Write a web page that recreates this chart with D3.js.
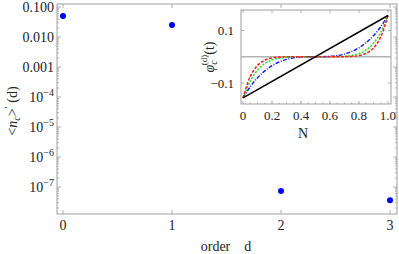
<!DOCTYPE html>
<html><head><meta charset="utf-8">
<script src="https://cdn.jsdelivr.net/npm/d3@7"></script>
<style>
html,body{margin:0;padding:0;background:#fff;}
svg{display:block;font-family:"Liberation Serif","Times New Roman",serif;}
</style></head>
<body><svg id="c" width="399" height="254"></svg>
<script>
// ---- main chart data ----
const orders = [0, 1, 2, 3];
const ncValues = [0.05, 0.025, 7.4e-8, 3.6e-8];
const yTickValues = [0.1, 0.01, 0.001, 1e-4, 1e-5, 1e-6, 1e-7];
const yTickBase = ["0.100", "0.010", "0.001", "10", "10", "10", "10"];
const yTickExp = ["", "", "", "\u22124", "\u22125", "\u22126", "\u22127"];
const xTickValues = [0, 1, 2, 3];

// ---- inset data ----
const insetT = [0,0.05,0.1,0.15,0.2,0.25,0.3,0.35,0.4,0.45,0.5,0.55,0.6,0.65,0.7,0.75,0.8,0.85,0.9,0.95,1];
const phiBlackT = [0, 1];
const phiBlack = [-0.157, 0.157];
const phiBlue = [-0.157,-0.114,-0.080,-0.054,-0.034,-0.020,-0.010,-0.004,-0.0013,-0.0002,0,0.0002,0.0013,0.004,0.010,0.020,0.034,0.054,0.080,0.114,0.157];
const phiGreen = [-0.157,-0.093,-0.051,-0.026,-0.012,-0.005,-0.0016,-0.0004,0,0,0,0,0,0.0004,0.0016,0.005,0.012,0.026,0.051,0.093,0.157];
const phiRed = [-0.157,-0.075,-0.033,-0.013,-0.0044,-0.0012,-0.0003,0,0,0,0,0,0,0,0.0003,0.0012,0.0044,0.013,0.033,0.075,0.157];
const insetXTicks = [0, 0.2, 0.4, 0.6, 0.8, 1.0];
const insetXLabels = ["0", "0.2", "0.4", "0.6", "0.8", "1.0"];
const insetYTicks = [0.1, -0.1];
const insetYLabels = ["0.1", "\u22120.1"];

const svg = d3.select("#c");
const frameCol = "#a0a0a0";

// ---- main plot ----
const L = 57, R = 397, T = 4, B = 214;
const x = d3.scaleLinear().domain([-0.055, 3.064]).range([L, R]);
const y = d3.scaleLog().domain([Math.pow(10, -7.9), Math.pow(10, -0.9)]).range([B, T]);

svg.append("rect").attr("x", L).attr("y", T).attr("width", R - L).attr("height", B - T)
  .attr("fill", "none").attr("stroke", frameCol).attr("stroke-width", 1);

// minor y ticks
const minor = [];
for (let e = -8; e <= -1; e++) for (let k = 2; k <= 9; k++) {
  const v = k * Math.pow(10, e);
  if (v > y.domain()[0] && v < y.domain()[1]) minor.push(v);
}
const gm = svg.append("g").attr("stroke", frameCol).attr("stroke-width", 0.8);
minor.forEach(v => {
  gm.append("line").attr("x1", L).attr("x2", L + 2).attr("y1", y(v)).attr("y2", y(v));
  gm.append("line").attr("x1", R).attr("x2", R - 2).attr("y1", y(v)).attr("y2", y(v));
});
yTickValues.forEach((v, i) => {
  gm.append("line").attr("x1", L).attr("x2", L + 4).attr("y1", y(v)).attr("y2", y(v));
  gm.append("line").attr("x1", R).attr("x2", R - 4).attr("y1", y(v)).attr("y2", y(v));
  const t = svg.append("text").attr("x", 54).attr("y", y(v) + 5).attr("text-anchor", "end")
    .attr("font-size", 14).attr("fill", "#222");
  t.append("tspan").text(yTickBase[i]);
  if (yTickExp[i]) t.append("tspan").attr("dy", -6).attr("font-size", 10).text(yTickExp[i]);
});
xTickValues.forEach(v => {
  gm.append("line").attr("x1", x(v)).attr("x2", x(v)).attr("y1", B).attr("y2", B - 4);
  gm.append("line").attr("x1", x(v)).attr("x2", x(v)).attr("y1", T).attr("y2", T + 4);
  svg.append("text").attr("x", x(v)).attr("y", 230).attr("text-anchor", "middle")
    .attr("font-size", 14).attr("fill", "#222").text(String(v));
});

// points
svg.append("g").selectAll("circle").data(orders).join("circle")
  .attr("cx", d => x(d)).attr("cy", (d, i) => y(ncValues[i])).attr("r", 3)
  .attr("fill", "#0000ff");

// axis labels
const xl = svg.append("text").attr("x", 226).attr("y", 251).attr("text-anchor", "middle")
  .attr("font-size", 14).attr("fill", "#222").attr("xml:space", "preserve").text("order    d");
const yl = svg.append("text").attr("transform", "translate(17,111) rotate(-90)")
  .attr("text-anchor", "middle").attr("font-size", 14).attr("fill", "#222");
yl.append("tspan").text("<");
yl.append("tspan").attr("font-style", "italic").text("n");
yl.append("tspan").attr("font-size", 10).attr("dy", 3).attr("font-style", "italic").text("c");
yl.append("tspan").attr("dy", -3).text(">");
yl.append("tspan").attr("dy", -5).attr("font-size", 10).text("\u2032");
yl.append("tspan").attr("dy", 5).text(" (d)");

// ---- inset ----
const iL = 241, iR = 391, iT = 10, iB = 104;
const ix = d3.scaleLinear().domain([-0.014, 1.021]).range([iL, iR]);
const iy = d3.scaleLinear().domain([-0.180, 0.178]).range([iB, iT]);

svg.append("rect").attr("x", iL).attr("y", iT).attr("width", iR - iL).attr("height", iB - iT)
  .attr("fill", "#fff").attr("stroke", frameCol).attr("stroke-width", 1);
const gi = svg.append("g").attr("stroke", frameCol).attr("stroke-width", 0.8);
insetXTicks.forEach((v, i) => {
  gi.append("line").attr("x1", ix(v)).attr("x2", ix(v)).attr("y1", iB).attr("y2", iB - 3);
  gi.append("line").attr("x1", ix(v)).attr("x2", ix(v)).attr("y1", iT).attr("y2", iT + 3);
  svg.append("text").attr("x", ix(v)).attr("y", 120).attr("text-anchor", "middle")
    .attr("font-size", 13).attr("fill", "#222").text(insetXLabels[i]);
});
d3.range(0.05, 1.0, 0.05).forEach(v => {
  gi.append("line").attr("x1", ix(v)).attr("x2", ix(v)).attr("y1", iB).attr("y2", iB - 1.5);
});
insetYTicks.forEach((v, i) => {
  gi.append("line").attr("x1", iL).attr("x2", iL + 3).attr("y1", iy(v)).attr("y2", iy(v));
  gi.append("line").attr("x1", iR).attr("x2", iR - 3).attr("y1", iy(v)).attr("y2", iy(v));
  svg.append("text").attr("x", 234).attr("y", iy(v) + 5).attr("text-anchor", "end")
    .attr("font-size", 13).attr("fill", "#222").text(insetYLabels[i]);
});
// zero line
svg.append("line").attr("x1", iL).attr("x2", iR).attr("y1", iy(0)).attr("y2", iy(0))
  .attr("stroke", "#b4b4b4").attr("stroke-width", 1.5);

const line = d3.line().x(d => ix(d[0])).y(d => iy(d[1])).curve(d3.curveCatmullRom);
const series = [
  {t: insetT, v: phiBlue, c: "#1a1aff", dash: "4,1.5,1,1.5"},
  {t: insetT, v: phiGreen, c: "#22dd22", dash: "2,1.5"},
  {t: insetT, v: phiRed, c: "#ff1a1a", dash: "3,1.5"},
  {t: phiBlackT, v: phiBlack, c: "#000", dash: null}
];
series.forEach(s => {
  svg.append("path").datum(s.t.map((t, i) => [t, s.v[i]])).attr("d", line)
    .attr("fill", "none").attr("stroke", s.c).attr("stroke-width", 1.5)
    .attr("stroke-dasharray", s.dash);
});

svg.append("text").attr("x", 303).attr("y", 138).attr("text-anchor", "middle")
  .attr("font-size", 14).attr("fill", "#222").text("N");
const il = svg.append("text").attr("transform", "translate(214,57) rotate(-90)")
  .attr("text-anchor", "middle").attr("font-size", 14).attr("fill", "#222");
il.append("tspan").attr("font-style", "italic").text("\u03c6");
il.append("tspan").attr("font-size", 10).attr("dy", 3).attr("font-style", "italic").text("c");
il.append("tspan").attr("font-size", 9).attr("dy", -10).attr("dx", -5).text("(d)");
il.append("tspan").attr("dy", 7).text("(t)");
</script></body></html>
